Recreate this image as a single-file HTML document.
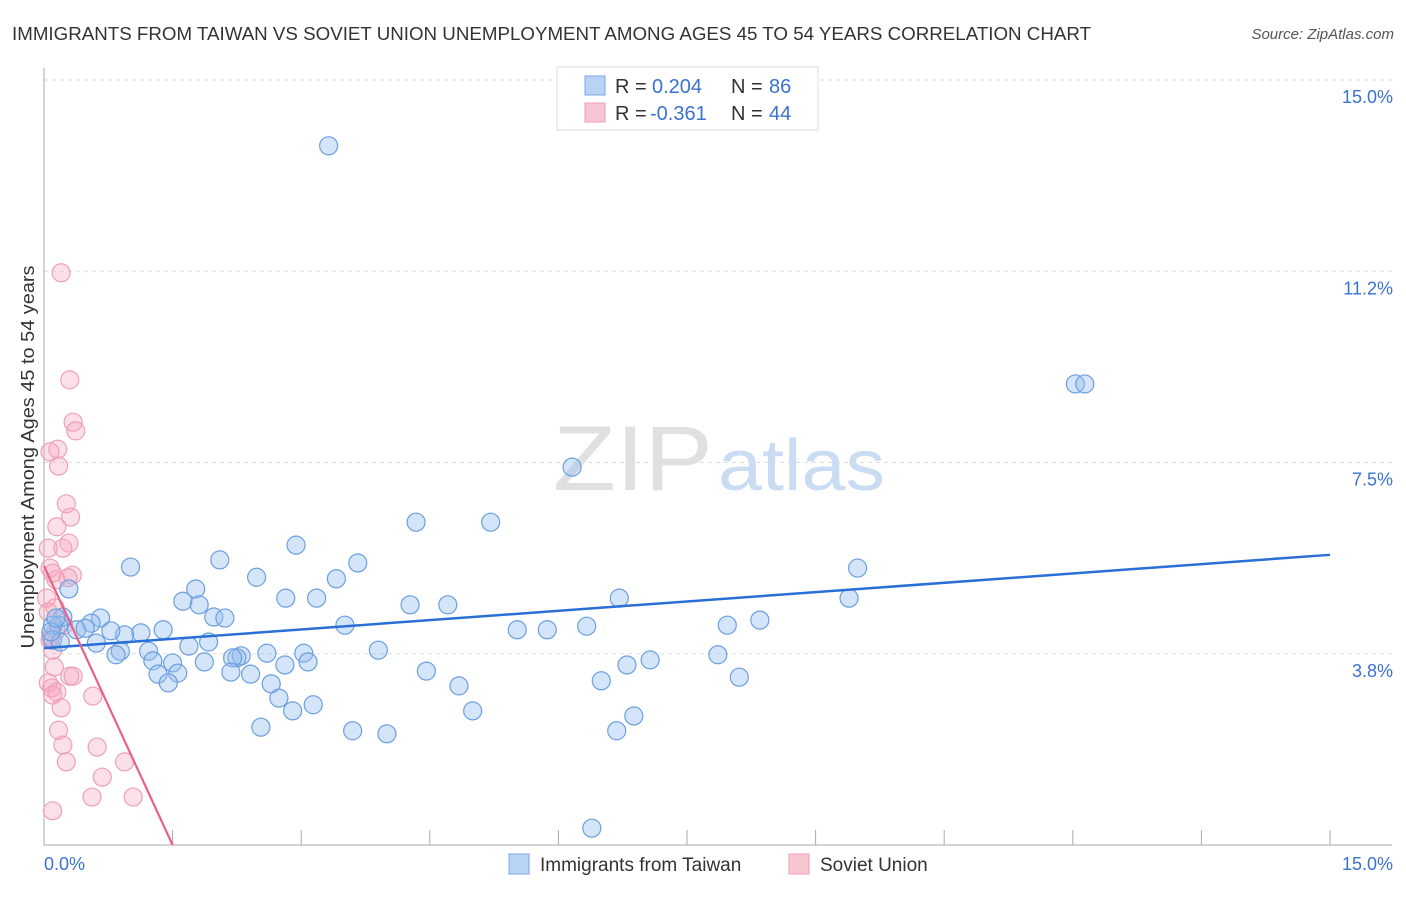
<!DOCTYPE html>
<html><head><meta charset="utf-8"><style>
body{margin:0;background:#fff;font-family:"Liberation Sans",sans-serif;}
svg text{font-family:"Liberation Sans",sans-serif;}
</style></head><body>
<svg id="chart" width="1406" height="892">
<text x="12" y="40" font-size="18.5" fill="#333" textLength="1079" lengthAdjust="spacingAndGlyphs">IMMIGRANTS FROM TAIWAN VS SOVIET UNION UNEMPLOYMENT AMONG AGES 45 TO 54 YEARS CORRELATION CHART</text>
<text x="1394" y="39" font-size="15" fill="#555" font-style="italic" text-anchor="end">Source: ZipAtlas.com</text>
<g>
<text x="553" y="490" font-size="92" font-family="Liberation Serif" fill="#e0e0e0" textLength="160" lengthAdjust="spacingAndGlyphs">ZIP</text>
<text x="718" y="490" font-size="72" fill="#cadcf2" textLength="167" lengthAdjust="spacingAndGlyphs">atlas</text>
</g>
<g id="grid"></g>
<g id="axes"></g>
<g id="pts"></g>
<g id="trends"></g>
<text transform="translate(34,457) rotate(-90)" font-size="18" fill="#333" text-anchor="middle" textLength="383" lengthAdjust="spacingAndGlyphs">Unemployment Among Ages 45 to 54 years</text>
<g>
<rect x="557" y="67" width="261" height="63" fill="#fff" stroke="#ddd"/>
<rect x="585" y="76" width="20" height="19" fill="#b8d3f5" stroke="#7aa8e6"/>
<rect x="585" y="103" width="20" height="19" fill="#f8c6d3" stroke="#ee9fb5"/>
<text x="615" y="93" font-size="20" fill="#333">R =</text>
<text x="652" y="93" font-size="20" fill="#3a72d0">0.204</text>
<text x="731" y="93" font-size="20" fill="#333">N =</text>
<text x="769" y="93" font-size="20" fill="#3a72d0">86</text>
<text x="615" y="120" font-size="20" fill="#333">R =</text>
<text x="650" y="120" font-size="20" fill="#3a72d0">-0.361</text>
<text x="731" y="120" font-size="20" fill="#333">N =</text>
<text x="769" y="120" font-size="20" fill="#3a72d0">44</text>
</g>
<g>
<rect x="509" y="854" width="20" height="20" fill="#b8d3f5" stroke="#7aa8e6"/>
<text x="540" y="871" font-size="19" fill="#333">Immigrants from Taiwan</text>
<rect x="789" y="854" width="20" height="20" fill="#f8c6d3" stroke="#ee9fb5"/>
<text x="820" y="871" font-size="19" fill="#333">Soviet Union</text>
</g>
</svg>
<script>
const blueX=[3.32,12.03,12.14,6.16,4.34,5.21,2.94,2.05,3.66,1.01,9.49,2.48,3.41,1.77,0.29,1.62,2.82,3.18,1.81,4.27,4.71,6.71,9.39,1.98,2.11,0.66,0.22,0.55,3.51,7.97,8.35,5.52,5.87,6.33,1.39,1.13,0.94,0.78,0.38,0.48,0.17,0.10,0.10,0.19,0.61,1.69,1.92,3.90,0.89,1.22,0.84,2.30,2.25,2.60,3.03,3.08,2.81,1.27,1.50,1.87,2.20,7.07,6.80,7.86,4.46,1.33,1.56,2.18,2.41,1.45,2.65,4.84,8.11,6.50,2.74,3.14,2.90,5.00,6.88,2.53,3.60,4.00,6.68,6.39,0.08,0.14];
const blueY=[13.71,9.04,9.04,7.41,6.33,6.33,5.88,5.59,5.53,5.45,5.43,5.25,5.22,5.02,5.02,4.78,4.84,4.84,4.71,4.71,4.71,4.84,4.84,4.47,4.45,4.45,4.47,4.35,4.31,4.31,4.41,4.22,4.22,4.29,4.22,4.16,4.12,4.20,4.22,4.25,4.31,4.31,4.02,3.98,3.96,3.90,3.98,3.82,3.80,3.80,3.73,3.71,3.67,3.76,3.76,3.59,3.53,3.61,3.57,3.59,3.67,3.63,3.53,3.73,3.41,3.35,3.37,3.39,3.35,3.18,3.16,3.12,3.29,3.22,2.88,2.75,2.63,2.63,2.53,2.31,2.24,2.18,2.24,0.33,4.18,4.45];
const pinkX=[0.20,0.30,0.34,0.37,0.16,0.07,0.17,0.26,0.31,0.15,0.29,0.22,0.05,0.07,0.10,0.33,0.14,0.03,0.13,0.05,0.08,0.10,0.12,0.05,0.09,0.15,0.30,0.34,0.10,0.57,0.20,0.17,0.22,0.62,0.26,0.94,0.68,0.56,1.04,0.10,0.14,0.23,0.07,0.28];
const pinkY=[11.22,9.12,8.29,8.12,7.76,7.71,7.43,6.69,6.43,6.24,5.92,5.82,5.82,5.43,5.33,5.29,5.20,4.84,4.65,4.57,4.08,3.82,3.49,3.18,3.08,3.00,3.31,3.31,2.94,2.92,2.69,2.25,1.96,1.92,1.63,1.63,1.33,0.94,0.94,0.67,4.20,4.31,4.02,5.24];
const blueTrendX=[0,15], blueTrendY=[3.86,5.69];
const pinkTrendX=[0,1.5], pinkTrendY=[5.47,0];
const yTicks=[15,11.25,7.5,3.75];
const yTickLabels=["15.0%","11.2%","7.5%","3.8%"];
const xTicks=[1.5,3,4.5,6,7.5,9,10.5,12,13.5,15];

const NS="http://www.w3.org/2000/svg";
const xs=v=>44+v/15*1286;
const ys=v=>845-v*51;
function mk(tag,attrs,parent){const e=document.createElementNS(NS,tag);for(const k in attrs)e.setAttribute(k,attrs[k]);document.getElementById(parent).appendChild(e);return e;}

yTicks.forEach((t,i)=>{
  const l=mk('line',{x1:44,x2:1392,y1:ys(t),y2:ys(t),stroke:'#ddd','stroke-dasharray':'4,4'},'grid');
  
  
  const tx=mk('text',{x:1393,y:ys(t)+23,'font-size':18,fill:'#3a72d0','text-anchor':'end'},'grid');
  tx.textContent=yTickLabels[i];
  
  
});
const ax=mk('line',{x1:44,x2:44,y1:68,y2:845,stroke:'#aaa'},'axes');


const bx=mk('line',{x1:44,x2:1392,y1:845,y2:845,stroke:'#aaa'},'axes');


xTicks.forEach(t=>{
  const l=mk('line',{x1:xs(t),x2:xs(t),y1:830,y2:845,stroke:'#aaa'},'axes');
  
  
});
const x0=mk('text',{x:44,y:870,'font-size':18,fill:'#3a72d0'},'axes');x0.textContent='0.0%';


const x1=mk('text',{x:1393,y:870,'font-size':18,fill:'#3a72d0','text-anchor':'end'},'axes');x1.textContent='15.0%';



pinkX.forEach((v,i)=>{
  const c=mk('circle',{cx:xs(v),cy:ys(pinkY[i]),r:9,fill:'rgba(245,165,188,0.35)',stroke:'#eea0b5','stroke-width':1.2},'pts');
  
  
});
blueX.forEach((v,i)=>{
  const c=mk('circle',{cx:xs(v),cy:ys(blueY[i]),r:9,fill:'rgba(150,190,240,0.4)',stroke:'#6a9fe0','stroke-width':1.2},'pts');
  
  
});
const bt=mk('line',{x1:xs(blueTrendX[0]),y1:ys(blueTrendY[0]),x2:xs(blueTrendX[1]),y2:ys(blueTrendY[1]),stroke:'#2a6fd6','stroke-width':2.5},'trends');


const pt=mk('line',{x1:xs(pinkTrendX[0]),y1:ys(pinkTrendY[0]),x2:xs(pinkTrendX[1]),y2:ys(pinkTrendY[1]),stroke:'#e8608a','stroke-width':2.2},'trends');


</script>
</body></html>
